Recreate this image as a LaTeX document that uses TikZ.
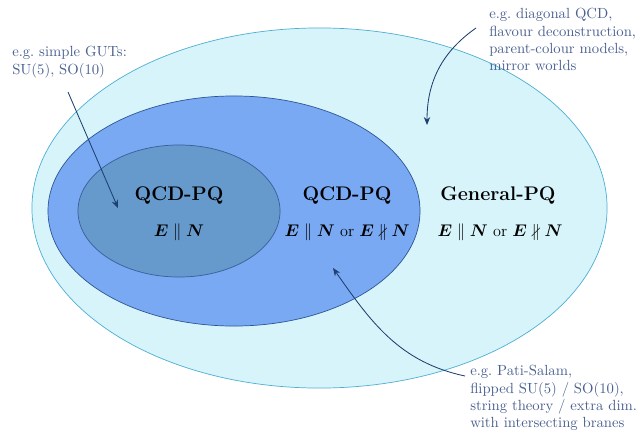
\documentclass[tikz,border=0pt]{standalone}
\usepackage{amsmath,amssymb,bm}
\usetikzlibrary{arrows.meta,shapes.geometric}
\definecolor{outerfill}{HTML}{D6F4FA}
\definecolor{outerline}{HTML}{4FAFD3}
\definecolor{midfill}{HTML}{78A9F2}
\definecolor{midline}{HTML}{2F5597}
\definecolor{innerfill}{HTML}{6699CC}
\definecolor{innerline}{HTML}{3B5E9A}
\definecolor{notetext}{HTML}{4A6090}
\definecolor{notearrow}{HTML}{1F3F70}

\begin{document}
\begin{tikzpicture}[
    x=0.025cm, y=-0.025cm,
    region/.style={ellipse, draw, inner sep=0pt, line width=0.5pt},
    title/.style={font=\fontsize{14}{17}\selectfont\bfseries},
    formula/.style={font=\fontsize{11.5}{14}\selectfont},
    note/.style={align=left, anchor=north west, inner sep=0pt, text=notetext, font=\fontsize{10.45}{12.4}\selectfont},
    pointer/.style={-{Stealth[length=2mm, width=1.6mm]}, notearrow, line width=0.6pt}
  ]
    \useasboundingbox (0,0) rectangle (643,434);

    % nested regions
    \node[region, fill=outerfill, draw=outerline, minimum width=14.375cm, minimum height=9cm] (general) at (319.5,208) {};
    \node[region, fill=midfill, draw=midline, minimum width=9.3cm, minimum height=5.75cm] (qcdpq) at (234,211) {};
    \node[region, fill=innerfill, draw=innerline, minimum width=5.05cm, minimum height=3.3cm] (gut) at (179,211) {};

    % labels
    \node[title] (gutname) at (179,196) {QCD-PQ};
    \node[formula] (gutcond) at (179,232) {$\bm{E}\parallel\bm{N}$};
    \node[title] (qcdname) at (347,196) {QCD-PQ};
    \node[formula] (qcdcond) at (347,232) {$\bm{E}\parallel\bm{N}$ or $\bm{E}\nparallel\bm{N}$};
    \node[title] (genname) at (498,196) {General-PQ};
    \node[formula] (gencond) at (500,232) {$\bm{E}\parallel\bm{N}$ or $\bm{E}\nparallel\bm{N}$};

    % examples
    \node[note] (gutnote) at (12,46) {e.g.\ simple GUTs:\\SU(5), SO(10)};
    \node[note] (gennote) at (489,8) {e.g.\ diagonal QCD,\\flavour deconstruction,\\parent-colour models,\\mirror worlds};
    \node[note] (qcdnote) at (470,365) {e.g.\ Pati-Salam,\\flipped SU(5) / SO(10),\\string theory / extra dim.\\with intersecting branes};

    \coordinate (gutfrom) at (68,92);
    \coordinate (gutto) at (118,208);
    \coordinate (genfrom) at (476,28);
    \coordinate (gento) at (427,125);
    \coordinate (qcdfrom) at (465,376);
    \coordinate (qcdto) at (333,268);

    \draw[pointer] (gutfrom) -- (gutto);
    \draw[pointer] (genfrom) to[out=215, in=90] (gento);
    \draw[pointer] (qcdfrom) to[out=168, in=-55] (qcdto);
  \end{tikzpicture}
\end{document}
